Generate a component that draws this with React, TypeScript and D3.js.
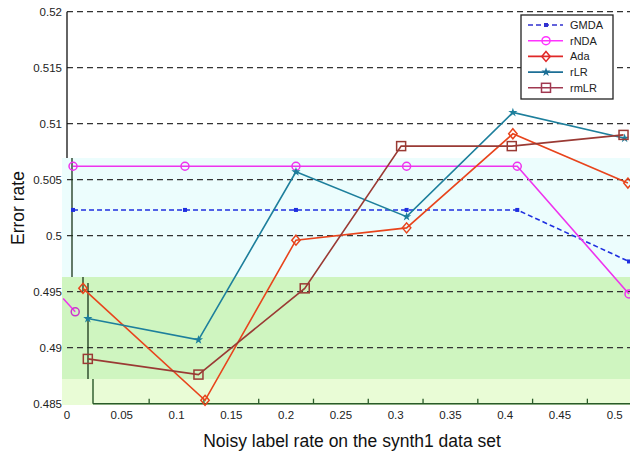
import React from 'react';
import * as d3 from 'd3';

// values
const gmdaX = [0.0055, 0.1077, 0.209, 0.31, 0.411, 0.513];
const gmdaY = [0.5023, 0.5023, 0.5023, 0.5023, 0.5023, 0.4977];
const rndaX = [0.0055, 0.1077, 0.209, 0.31, 0.411, 0.513];
const rndaY = [0.5062, 0.5062, 0.5062, 0.5062, 0.5062, 0.4948];
const adaX = [0.0146, 0.126, 0.209, 0.31, 0.407, 0.512];
const adaY = [0.4953, 0.4853, 0.4996, 0.5007, 0.5091, 0.5047];
const rlrX = [0.019, 0.12, 0.209, 0.31, 0.407, 0.509];
const rlrY = [0.4926, 0.4907, 0.5057, 0.5017, 0.511, 0.5087];
const rmlrX = [0.019, 0.12, 0.217, 0.305, 0.406, 0.508];
const rmlrY = [0.489, 0.4876, 0.4953, 0.508, 0.508, 0.509];

const yTicks = [0.485, 0.49, 0.495, 0.5, 0.505, 0.51, 0.515, 0.52];
const yTickLabels = ['0.485', '0.49', '0.495', '0.5', '0.505', '0.51', '0.515', '0.52'];
const xTicks = [0, 0.05, 0.1, 0.15, 0.2, 0.25, 0.3, 0.35, 0.4, 0.45, 0.5];
const xTickLabels = ['0', '0.05', '0.1', '0.15', '0.2', '0.25', '0.3', '0.35', '0.4', '0.45', '0.5'];
const gridValues = [0.49, 0.495, 0.5, 0.505, 0.51, 0.515, 0.52];

const series = [
  { name: 'GMDA', xs: gmdaX, ys: gmdaY, color: '#1f2fe0', legendColor: '#3030d0', dash: '5,3', marker: 'dot' },
  { name: 'rNDA', xs: rndaX, ys: rndaY, color: '#ee33ee', legendColor: '#ff33ff', dash: null, marker: 'circle' },
  { name: 'Ada', xs: adaX, ys: adaY, color: '#e8441c', legendColor: '#e02828', dash: null, marker: 'diamond' },
  { name: 'rLR', xs: rlrX, ys: rlrY, color: '#1d7f9c', legendColor: '#1d6f96', dash: null, marker: 'star' },
  { name: 'rmLR', xs: rmlrX, ys: rmlrY, color: '#9a3a34', legendColor: '#a03850', dash: null, marker: 'square' },
];

const W = 630;
const H = 456;
const font = 'Liberation Sans, Arial, sans-serif';

const x = d3.scaleLinear().domain([0, 0.513]).range([67, 629]);
const y = d3.scaleLinear().domain([0.485, 0.52]).range([403.7, 11.7]);

const Marker = ({ kind, cx, cy, color }) => {
  if (kind === 'dot') {
    return <rect x={cx - 2} y={cy - 2} width={4} height={4} fill={color} />;
  }
  if (kind === 'circle') {
    return <circle cx={cx} cy={cy} r={4} fill="none" stroke={color} strokeWidth={1.5} />;
  }
  if (kind === 'diamond') {
    return (
      <path
        d={`M${cx},${cy - 5}L${cx + 4.2},${cy}L${cx},${cy + 5}L${cx - 4.2},${cy}Z`}
        fill="none" stroke={color} strokeWidth={1.5}
      />
    );
  }
  if (kind === 'star') {
    return <path transform={`translate(${cx},${cy})`} d={d3.symbol(d3.symbolStar, 26)()} fill={color} />;
  }
  return <rect x={cx - 4.5} y={cy - 4.5} width={9} height={9} fill="none" stroke={color} strokeWidth={1.5} />;
};

export default function App() {
  const line = d3.line<[number, number]>().x(d => x(d[0])).y(d => y(d[1]));

  return (
    <div style={{ position: 'absolute', left: 0, top: 0 }}>
      <svg width={W} height={H} style={{ display: 'block', background: '#fff' }}>
        {/* background bands */}
        <rect x={62} y={158} width={W - 62} height={119} fill="#ecfdfd" />
        <rect x={62} y={277} width={W - 62} height={102} fill="#cff5c0" />
        <rect x={62} y={379} width={W - 62} height={26} fill="#e9fcd6" />

        {/* dashed grid */}
        {gridValues.map(v => (
          <line key={v} x1={x(0)} x2={W} y1={y(v)} y2={y(v)}
            stroke="#333" strokeWidth={1.3} strokeDasharray="6,4" />
        ))}

        {/* y axis (sliced) */}
        <line x1={67} x2={67} y1={y(0.52)} y2={158} stroke="#111" strokeWidth={1.3} />
        <line x1={72} x2={72} y1={158} y2={277} stroke="#1a331a" strokeWidth={1.3} />
        <line x1={83} x2={83} y1={277} y2={291} stroke="#1a331a" strokeWidth={1.3} />
        <line x1={88} x2={88} y1={283} y2={379} stroke="#1a331a" strokeWidth={1.3} />
        <line x1={93} x2={93} y1={379} y2={y(0.485)} stroke="#1a4a1a" strokeWidth={1.3} />

        {/* x axis */}
        <line x1={93} x2={W} y1={y(0.485)} y2={y(0.485)} stroke="#2a5a2a" strokeWidth={1.5} />
        {xTicks.slice(1).map(v => (
          <line key={v} x1={x(v + 0.025)} x2={x(v + 0.025)} y1={y(0.485)} y2={y(0.485) - 5}
            stroke="#2a5a2a" strokeWidth={1.3} />
        ))}

        {/* tick labels */}
        {yTicks.map((v, i) => (
          <text key={v} x={62} y={y(v)} dy="0.35em" textAnchor="end" fontSize={11.5}
            fontFamily={font} fill="#222">{yTickLabels[i]}</text>
        ))}
        {xTicks.map((v, i) => (
          <text key={v} x={x(v)} y={419} textAnchor="middle" fontSize={11.5}
            fontFamily={font} fill="#222">{xTickLabels[i]}</text>
        ))}

        {/* series */}
        {series.map(s => {
          const pts = s.xs.map((v, i) => [v, s.ys[i]] as [number, number]);
          return (
            <g key={s.name}>
              <path d={line(pts)} fill="none" stroke={s.color} strokeWidth={1.6}
                strokeDasharray={s.dash || undefined} />
              {pts.map((p, i) => (
                <Marker key={i} kind={s.marker} cx={x(p[0])} cy={y(p[1])} color={s.color} />
              ))}
            </g>
          );
        })}

        {/* stray rNDA fragment at the left edge */}
        <path d={line([[-0.0035, 0.4944], [0.0075, 0.4932]])} fill="none" stroke="#ee33ee" strokeWidth={1.5} />
        <Marker kind="circle" cx={x(0.0075)} cy={y(0.4932)} color="#cc33cc" />

        {/* legend */}
        <rect x={521} y={15} width={92} height={84} fill="#fff" stroke="#222" strokeWidth={1.3} />
        {series.map((s, i) => {
          const ly = 25 + i * 15.7;
          return (
            <g key={s.name}>
              <line x1={528} x2={563} y1={ly} y2={ly} stroke={s.legendColor} strokeWidth={1.6}
                strokeDasharray={s.dash || undefined} />
              <Marker kind={s.marker} cx={546} cy={ly} color={s.legendColor} />
              <text x={570} y={ly} dy="0.35em" fontSize={11} fontFamily={font} fill="#222">{s.name}</text>
            </g>
          );
        })}

        {/* axis titles */}
        <text transform="translate(24,208) rotate(-90)" textAnchor="middle" fontSize={17.5}
          fontFamily={font} fill="#111">Error rate</text>
        <text x={352} y={447} textAnchor="middle" fontSize={17.5} fontFamily={font} fill="#111">
          Noisy label rate on the synth1 data set
        </text>
      </svg>
    </div>
  );
}
